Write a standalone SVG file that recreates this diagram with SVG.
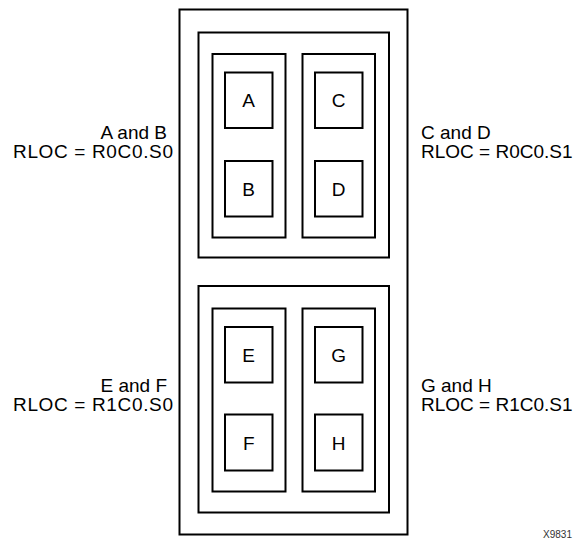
<svg xmlns="http://www.w3.org/2000/svg" width="577" height="542" viewBox="0 0 577 542">
<style>
rect{fill:none;stroke:#000;stroke-width:2}
text{font-family:"Liberation Sans",Arial,sans-serif;font-size:19px;fill:#000}
.c{text-anchor:middle}
.e{text-anchor:end}
.id{font-size:10px;fill:#333;text-anchor:end}
</style>
<rect width="577" height="542" fill="#fff" style="fill:#fff;stroke:none"/>
<g id="outer"><rect x="179.5" y="9.5" width="228" height="525"/></g>
<g id="top-group">
<rect x="198.5" y="32.5" width="190.5" height="225"/>
<rect x="212.5" y="54" width="73" height="183.5"/>
<rect x="302.5" y="54" width="72.5" height="183.5"/>
</g>
<g id="bottom-group">
<rect x="198.5" y="286" width="190.5" height="226.5"/>
<rect x="212.5" y="308.5" width="73" height="183"/>
<rect x="302.5" y="308.5" width="72.5" height="183"/>
</g>
<g id="A"><rect x="225" y="72.5" width="47.5" height="55.5"/><text class="c" x="248.7" y="107">A</text></g>
<g id="B"><rect x="225" y="161" width="47.5" height="55.5"/><text class="c" x="248.7" y="195.5">B</text></g>
<g id="C"><rect x="315" y="72.5" width="47.5" height="55.5"/><text class="c" x="338.7" y="107">C</text></g>
<g id="D"><rect x="315" y="161" width="47.5" height="55.5"/><text class="c" x="338.7" y="195.5">D</text></g>
<g id="E"><rect x="225" y="327" width="47.5" height="55.5"/><text class="c" x="248.7" y="361.5">E</text></g>
<g id="F"><rect x="225" y="414.5" width="47.5" height="56"/><text class="c" x="248.7" y="449.5">F</text></g>
<g id="G"><rect x="315" y="327" width="47.5" height="55.5"/><text class="c" x="338.7" y="361.5">G</text></g>
<g id="H"><rect x="315" y="414.5" width="47.5" height="56"/><text class="c" x="338.7" y="449.5">H</text></g>
<g id="label-AB"><text class="e" x="167" y="138.5">A and B</text><text x="13" y="157.5" textLength="160" lengthAdjust="spacing">RLOC = R0C0.S0</text></g>
<g id="label-CD"><text x="421" y="138.5">C and D</text><text x="421" y="157.5">RLOC = R0C0.S1</text></g>
<g id="label-EF"><text class="e" x="167" y="391.5">E and F</text><text x="13" y="410.5" textLength="160" lengthAdjust="spacing">RLOC = R1C0.S0</text></g>
<g id="label-GH"><text x="421" y="391.5">G and H</text><text x="421" y="410.5">RLOC = R1C0.S1</text></g>
<text class="id" x="572" y="538">X9831</text>
</svg>
